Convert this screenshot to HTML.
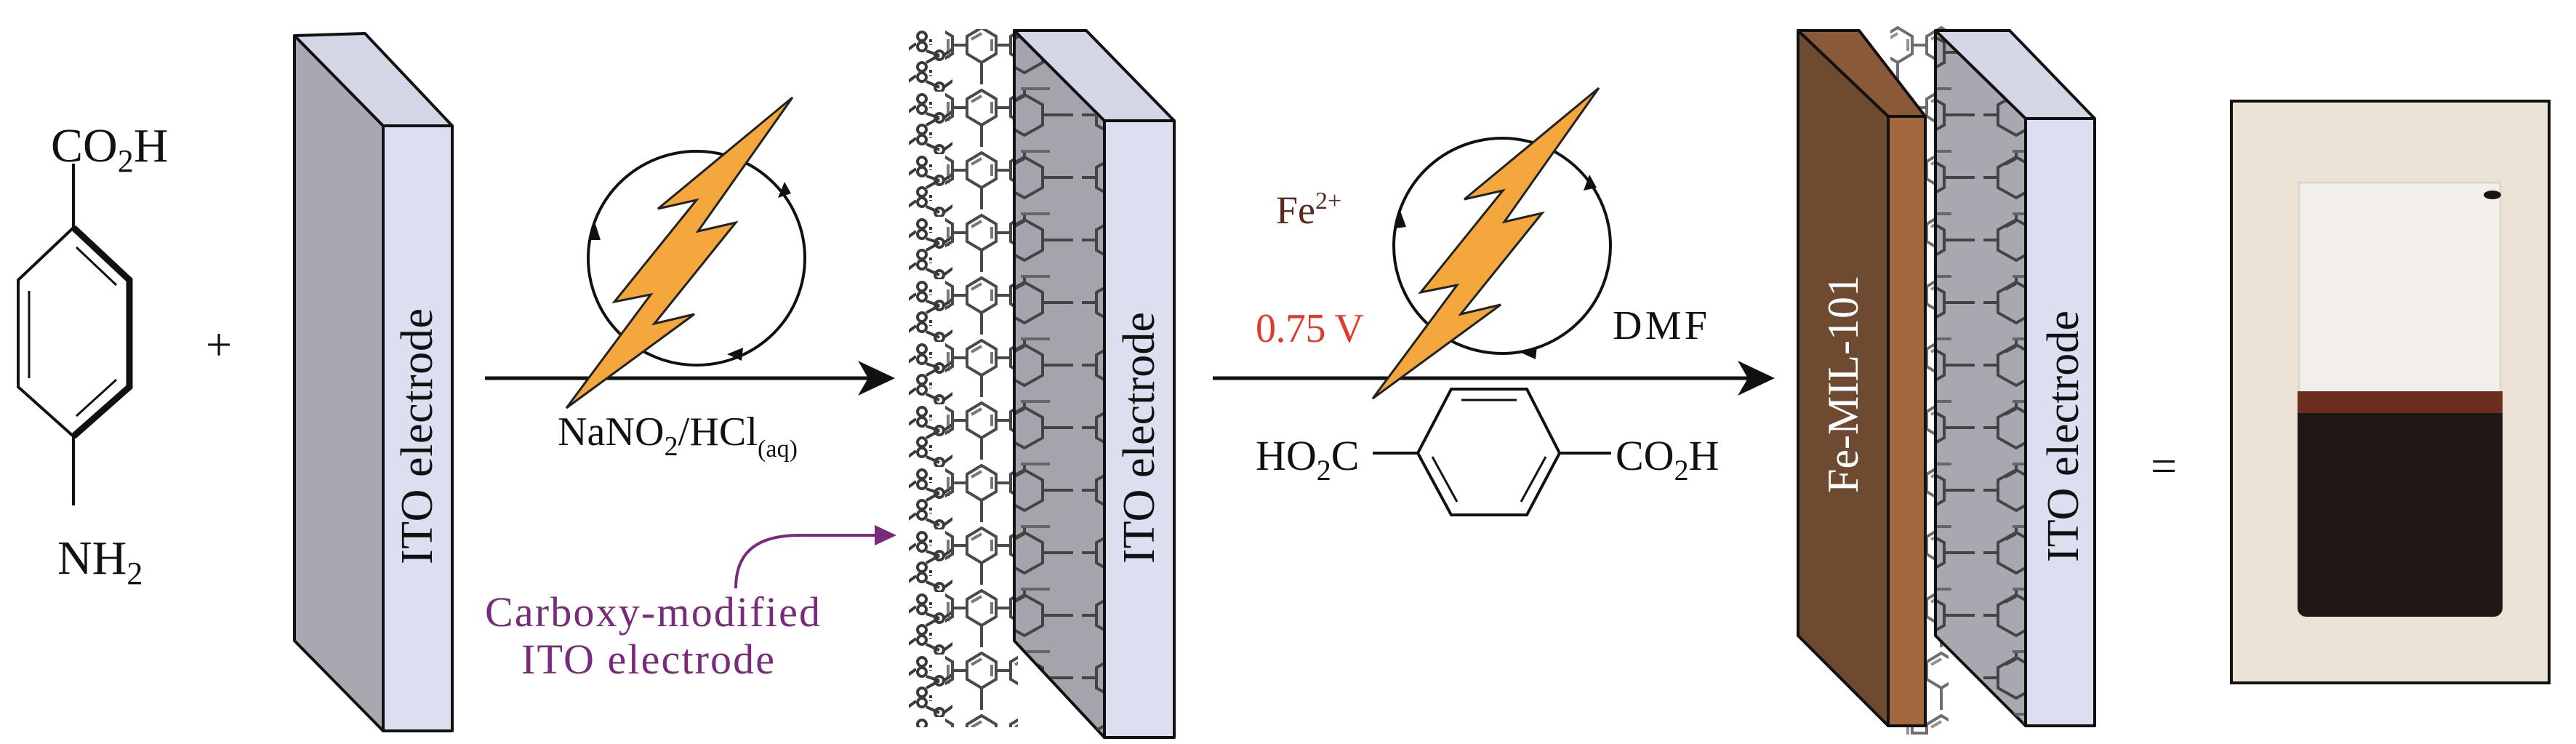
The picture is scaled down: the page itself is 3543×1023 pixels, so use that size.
<!DOCTYPE html>
<html><head><meta charset="utf-8"><style>html,body{margin:0;padding:0;background:#fff}svg{display:block}</style></head>
<body>
<svg width="3543" height="1023" viewBox="0 0 3543 1023" xmlns="http://www.w3.org/2000/svg" font-family="'Liberation Serif', serif">
<defs>
<pattern id="hexA" x="0" y="40" width="60" height="86" patternUnits="userSpaceOnUse">
  <g fill="none" stroke="#3a3a3a" stroke-width="4">
    <circle cx="8" cy="10" r="6"/><circle cx="8" cy="24" r="6"/><circle cx="8" cy="52" r="6"/><circle cx="8" cy="66" r="6"/>
    <circle cx="32" cy="36" r="6"/><circle cx="32" cy="80" r="6"/>
    <path d="M14 30 L32 36 M14 46 L32 36 M14 72 L32 80 M38 36 L60 20 M38 80 L60 64" />
    <path d="M20 14 v8 M20 56 v8 M44 30 v10" stroke-dasharray="4 3"/>
  </g>
</pattern>
<pattern id="hexB" x="0" y="30" width="60" height="86" patternUnits="userSpaceOnUse">
  <g fill="none" stroke="#4a4a4a" stroke-width="4">
    <path d="M10 20 L30 8 L50 20 L50 44 L30 56 L10 44 Z"/>
    <path d="M30 56 L30 86 M50 32 L60 32 M0 32 L10 32"/>
    <path d="M16 24 L30 16 M44 24 L44 40" stroke="#777"/>
  </g>
</pattern>
<pattern id="hexC" x="0" y="30" width="124" height="86" patternUnits="userSpaceOnUse">
  <g fill="none" stroke="#444" stroke-width="4">
    <path d="M20 28 L45 14 L70 28 L70 56 L45 70 L20 56 Z"/>
    <path d="M70 42 L112 42 M0 42 L20 42 M45 14 L45 4 M30 24 L45 16"/>
    <path d="M40 6 L80 6" stroke="#666"/>
  </g>
</pattern>
</defs>

<g font-size="66" fill="#111">
  <text x="70" y="222">CO<tspan font-size="44" dy="14">2</tspan><tspan dy="-14">H</tspan></text>
  <text x="79" y="789">NH<tspan font-size="44" dy="14">2</tspan></text>
</g>
<g stroke="#111" stroke-width="4" fill="none">
  <path d="M101 225 V313 M101 600 V695"/>
  <path d="M101 313 L178 385 L178 532 L101 600 L25 532 L25 385 Z"/>
  <path d="M101 313 L178 385 L178 532 L101 600" stroke-width="9"/>
  <path d="M40 400 V520 M105 340 L160 392 M160 522 L105 572" stroke-width="3"/>
</g>
<text x="301" y="495" font-size="64" text-anchor="middle" fill="#111">+</text>

<g stroke="#111" stroke-width="4" stroke-linejoin="round">
  <polygon points="405,49 527,173 527,1005 405,881" fill="#a9a7b0"/>
  <polygon points="405,49 502,46 622,173 527,173" fill="#d4d6e6"/>
  <rect x="527" y="173" width="95" height="832" fill="#dcdff0"/>
</g>
<text transform="translate(594,600) rotate(-90)" font-size="62" text-anchor="middle" textLength="352" fill="#111">ITO electrode</text>

<line x1="667" y1="520" x2="1215" y2="520" stroke="#111" stroke-width="5"/>
<polygon points="1231,520 1180,496 1194,520 1180,544" fill="#111"/>
<ellipse cx="958" cy="355" rx="149" ry="147" fill="none" stroke="#111" stroke-width="4"/>
<g id="bolt">
<polygon points="1090,134 960,318 1012,306 900,445 955,432 779,561 895,405 845,415 958,275 905,287" fill="#f4a73c" stroke="#222" stroke-width="3"/>
</g>
<g fill="#111">
  <polygon points="818,305 812,330 826,330"/>
  <polygon points="1079,250 1070,272 1088,266"/>
  <polygon points="1000,487 1022,478 1020,496"/>
</g>
<text x="767" y="612" font-size="56" fill="#111" textLength="330">NaNO<tspan font-size="38" dy="14">2</tspan><tspan dy="-14">/HCl</tspan><tspan font-size="34" dy="16">(aq)</tspan></text>

<path d="M1012 809 C1012 760 1040 736 1100 736 L1205 736" fill="none" stroke="#7a2a7a" stroke-width="4"/>
<polygon points="1233,736 1203,722 1203,750" fill="#7a2a7a"/>
<text x="667" y="861" font-size="58" fill="#7a2a7a" textLength="461">Carboxy-modified</text>
<text x="717" y="926" font-size="58" fill="#7a2a7a" textLength="348">ITO electrode</text>

<rect x="1250" y="40" width="60" height="960" fill="url(#hexA)"/>
<rect x="1300" y="40" width="100" height="960" fill="url(#hexB)"/>
<g stroke="#111" stroke-width="4" stroke-linejoin="round">
  <polygon points="1395,42 1519,166 1519,1014 1395,881" fill="#a4a4ac"/>
</g>
<polygon points="1397,45 1517,168 1517,1012 1397,879" fill="url(#hexC)"/>
<g stroke="#111" stroke-width="4" stroke-linejoin="round">
  <polygon points="1395,42 1494,42 1615,166 1519,166" fill="#d4d6e6"/>
  <rect x="1519" y="166" width="96" height="848" fill="#dcdff0"/>
</g>
<text transform="translate(1587,602) rotate(-90)" font-size="62" text-anchor="middle" textLength="346" fill="#111">ITO electrode</text>

<line x1="1668" y1="520" x2="2425" y2="520" stroke="#111" stroke-width="5"/>
<polygon points="2441,520 2390,496 2404,520 2390,544" fill="#111"/>
<ellipse cx="2066" cy="338" rx="149" ry="148" fill="none" stroke="#111" stroke-width="4"/>
<use href="#bolt" transform="translate(1109,-13)"/>
<g fill="#111">
  <polygon points="1926,290 1918,314 1934,312"/>
  <polygon points="2186,240 2178,262 2196,258"/>
  <polygon points="2092,485 2114,476 2112,494"/>
</g>
<text x="1755" y="307" font-size="54" fill="#5a2a1e">Fe<tspan font-size="34" dy="-20">2+</tspan></text>
<text x="1727" y="470" font-size="56" fill="#e03a2a" textLength="149">0.75 V</text>
<text x="2218" y="466" font-size="56" fill="#111" textLength="130">DMF</text>
<text x="1727" y="646" font-size="58" fill="#111">HO<tspan font-size="40" dy="14">2</tspan><tspan dy="-14">C</tspan></text>
<text x="2222" y="646" font-size="58" fill="#111">CO<tspan font-size="40" dy="14">2</tspan><tspan dy="-14">H</tspan></text>
<g stroke="#111" stroke-width="4" fill="none">
  <path d="M1888 623 H1950 M2145 623 H2216"/>
  <path d="M1996 535 L2100 535 L2145 623 L2100 708 L1996 708 L1950 623 Z"/>
  <path d="M2010 550 H2086 M1970 628 L2004 690 M2126 628 L2092 690" stroke-width="3"/>
</g>

<rect x="2600" y="30" width="80" height="980" fill="url(#hexB)" opacity="0.8"/>
<g stroke="#111" stroke-width="4" stroke-linejoin="round">
  <polygon points="2662,42 2786,163 2786,998 2662,874" fill="#a8a8b0"/>
</g>
<polygon points="2664,45 2784,165 2784,996 2664,872" fill="url(#hexC)"/>
<g stroke="#111" stroke-width="4" stroke-linejoin="round">
  <polygon points="2662,42 2764,42 2881,163 2786,163" fill="#d4d6e6"/>
  <rect x="2786" y="163" width="95" height="835" fill="#dcdff0"/>
  <polygon points="2473,42 2597,160 2597,998 2473,874" fill="#6d4a30"/>
  <polygon points="2473,42 2557,42 2648,160 2597,160" fill="#8a5a38"/>
  <rect x="2597" y="160" width="51" height="838" fill="#a3683f"/>
</g>
<text transform="translate(2555,528) rotate(-90)" font-size="60" text-anchor="middle" textLength="300" fill="#fff">Fe-MIL-101</text>
<text transform="translate(2858,600) rotate(-90)" font-size="62" text-anchor="middle" textLength="346" fill="#111">ITO electrode</text>
<text x="2976" y="662" font-size="64" text-anchor="middle" fill="#111">=</text>

<rect x="3069" y="139" width="437" height="800" fill="#ece3d6" stroke="#111" stroke-width="4"/>
<rect x="3162" y="251" width="277" height="300" fill="#f2efea" stroke="#ddd8cf" stroke-width="3"/>
<ellipse cx="3428" cy="268" rx="12" ry="6" fill="#1a1412"/>
<rect x="3160" y="538" width="282" height="310" rx="12" fill="#1f1716"/>
<rect x="3160" y="538" width="282" height="30" fill="#6b2e1e"/>
</svg>
</body></html>
